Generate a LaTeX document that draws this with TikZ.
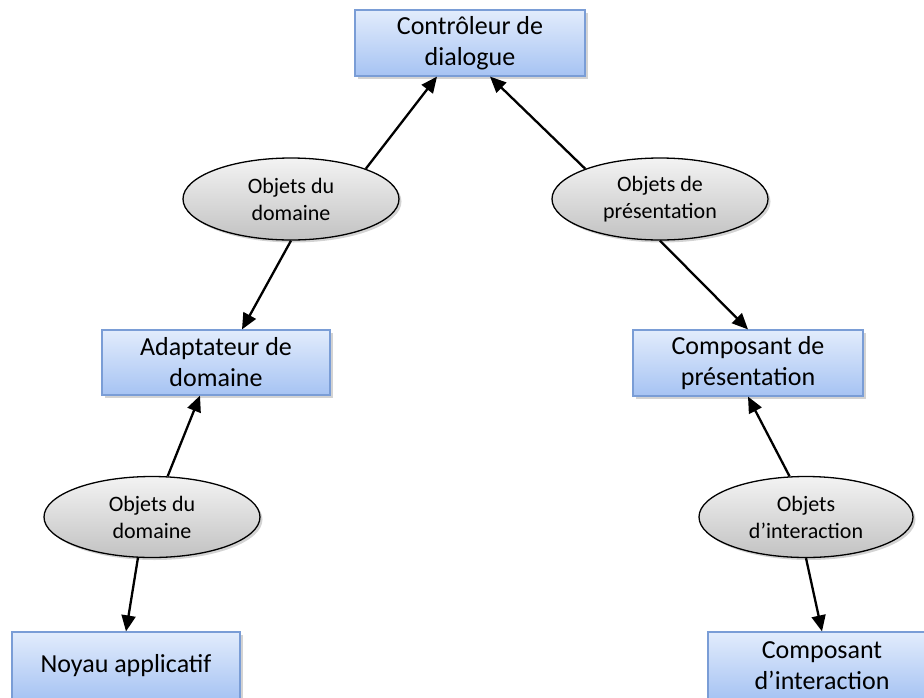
\documentclass[tikz,border=0pt]{standalone}
\usepackage{fontspec}
\setmainfont{Carlito}
\usetikzlibrary{arrows.meta,shapes.geometric,shadows,calc}
\definecolor{boxtop}{HTML}{E2ECFC}
\definecolor{boxbot}{HTML}{A6C3F3}
\definecolor{boxline}{HTML}{7A9DD6}
\definecolor{elltop}{HTML}{F3F3F3}
\definecolor{ellbot}{HTML}{C2C2C2}
\tikzset{
  bluebox/.style={rectangle, draw=boxline, line width=1.2pt, top color=boxtop, bottom color=boxbot,
    align=center, font=\fontsize{26}{31}\selectfont, inner sep=0pt,
    drop shadow={shadow xshift=2.5pt, shadow yshift=-2.5pt, opacity=0.35}},
  grayell/.style={ellipse, draw=black, line width=1.3pt, top color=elltop, bottom color=ellbot,
    align=center, font=\fontsize{22}{27}\selectfont, inner sep=0pt,
    minimum width=216pt, minimum height=82pt,
    drop shadow={shadow xshift=2.5pt, shadow yshift=-2.5pt, opacity=0.35}},
  arr/.style={line width=2.3pt, -{Triangle[length=16pt,width=14pt]}},
}
\begin{document}
\begin{tikzpicture}[x=1pt,y=-1pt]
\path[use as bounding box] (0,0) rectangle (924,697);
\node[bluebox, minimum width=230pt, minimum height=66pt] (ctrl) at (470,43) {Contrôleur de\\dialogue};
\node[grayell] (od1) at (291,199) {Objets du\\domaine};
\node[grayell] (op) at (660,199) {Objets de\\présentation};
\node[bluebox, minimum width=228pt, minimum height=65pt] (adapt) at (216,362.5) {Adaptateur de\\domaine};
\node[bluebox, minimum width=230pt, minimum height=66pt] (cpres) at (748,363) {Composant de\\présentation};
\node[grayell, minimum width=216pt, minimum height=81pt] (od2) at (152,517) {Objets du\\domaine};
\node[grayell, minimum width=214pt, minimum height=81pt] (oi) at (806,517) {Objets\\d’interaction};
\node[bluebox, minimum width=228pt, minimum height=68pt] (noyau) at (126,666) {Noyau applicatif};
\node[bluebox, minimum width=228pt, minimum height=68pt] (cint) at (822,666) {Composant\\d’interaction};

\draw[arr] (od1.22) -- ([xshift=-33pt]ctrl.south);
\draw[arr] (op.158) -- ([xshift=20pt]ctrl.south);
\draw[arr] (od1.south) -- ([xshift=26pt]adapt.north);
\draw[arr] (op.south) -- (cpres.north);
\draw[arr] (od2.69) -- ([xshift=-16pt]adapt.south);
\draw[arr] (od2.-109) -- (noyau.north);
\draw[arr] (oi.112) -- (cpres.south);
\draw[arr] (oi.south) -- (cint.north);
\end{tikzpicture}
\end{document}
